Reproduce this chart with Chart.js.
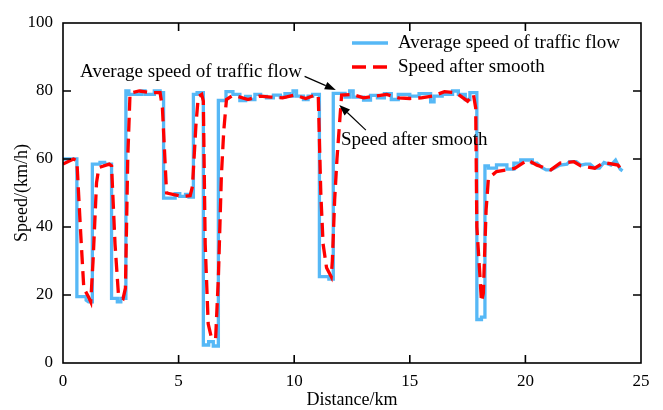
<!DOCTYPE html>
<html><head><meta charset="utf-8">
<script src="https://cdn.jsdelivr.net/npm/chart.js@4/dist/chart.umd.min.js"></script>
<style>html,body{margin:0;padding:0;background:#fff}#wrap{width:663px;height:410px}</style>
</head><body><div id="wrap"><canvas id="c" width="663" height="410"></canvas></div>
<script>
// Average speed of traffic flow (km, km/h)
const avgDistance = [0,0.6,0.6,1.0,1.0,1.1,1.27,1.27,1.6,1.6,1.8,1.8,2.1,2.1,2.35,2.35,2.5,2.5,2.72,2.72,2.85,2.85,3.4,3.4,3.55,3.55,3.95,3.95,4.2,4.2,4.35,4.35,4.85,4.85,5.05,5.05,5.3,5.3,5.45,5.45,5.64,5.64,5.8,5.8,6.07,6.07,6.3,6.3,6.5,6.5,6.72,6.72,7.05,7.05,7.35,7.35,7.65,7.65,7.9,7.9,8.1,8.1,8.3,8.3,8.55,8.55,8.8,8.8,9.1,9.1,9.4,9.4,9.6,9.6,9.8,9.8,9.95,9.95,10.1,10.1,10.4,10.4,10.6,10.6,10.8,10.8,11.09,11.09,11.5,11.5,11.69,11.69,12.2,12.2,12.4,12.4,12.55,12.55,13.0,13.0,13.3,13.3,13.6,13.6,13.9,13.9,14.2,14.2,14.5,14.5,15.0,15.0,15.4,15.4,15.9,15.9,16.05,16.05,16.4,16.4,16.85,16.85,17.1,17.1,17.4,17.4,17.6,17.6,17.9,17.9,18.1,18.1,18.25,18.25,18.4,18.4,18.75,18.75,19.2,19.2,19.5,19.5,19.8,19.8,20.3,20.3,20.5,20.7,20.9,21.1,21.3,21.5,21.8,21.9,22.2,22.4,22.6,22.8,23.0,23.2,23.4,23.7,23.9,24.1,24.2];
const avgSpeed    = [60,60,19.5,19.5,18.5,18,18,58.5,58.5,59,59,58.5,58.5,19,19,18,18,19,19,80,80,79,79,80,80,79,79,80,80,79.5,79.5,48.5,48.5,49.8,49.8,49,49,49.6,49.6,48.8,48.8,79,79,79.5,79.5,5.3,5.3,6.3,6.3,5,5,77.2,77.2,79.8,79.8,79,79,77.2,77.2,78.4,78.4,77.5,77.5,79,79,78.4,78.4,78,78,78.8,78.8,78.2,78.2,79.2,79.2,78.5,78.5,80,80,78.5,78.5,77.5,77.5,78.5,78.5,79,79,25.4,25.4,24.7,24.7,79.3,79.3,78.2,78.2,80,80,78.2,78.2,77.3,77.3,78.7,78.7,78,78,79.2,79.2,77.5,77.5,79,79,78.5,78.5,79.2,79.2,76.8,76.8,78.5,78.5,79,79,80,80,79,79,77.5,77.5,79.5,79.5,12.8,12.8,13.5,13.5,58,58,57.3,57.3,58.3,58.3,57,57,58.8,58.8,59.7,59.7,58.8,58.8,57.5,56.8,56.8,57.5,58.2,58.5,59.2,59.2,58.2,58.5,58.5,57.3,57.3,59,58.2,59.7,57,56.5];
// Speed after smooth
const smoothDistance = [0,0.45,0.6,0.75,0.9,1.1,1.2,1.3,1.45,1.55,2.0,2.1,2.25,2.4,2.6,2.7,2.8,2.9,3.3,3.8,4.2,4.3,4.48,4.8,5.2,5.5,5.6,5.75,5.85,6.0,6.07,6.15,6.28,6.4,6.6,6.72,6.85,6.95,7.07,7.3,7.5,8.0,8.5,9.0,9.5,10.0,10.5,10.9,11.04,11.15,11.25,11.4,11.6,11.65,11.75,11.85,12.05,12.5,13.0,13.5,14.0,14.5,15.0,15.5,16.0,16.5,17.0,17.5,17.75,17.85,17.9,18.03,18.1,18.18,18.3,18.4,18.75,19.2,19.55,20.1,20.5,21.1,21.5,22.1,22.4,23.0,23.4,24.0,24.2];
const smoothSpeed    = [58.5,60,59.5,40,22,19.5,18,30,53,57.5,58.5,58,35,20,19,22,60,79.4,80,79.5,79.5,75,50,49.5,49,49.2,52,70,78.3,79,77,35,11.5,8,7,25,55,68,77.5,78.5,78.5,77.5,78.5,78.2,78,78.8,77.8,78.8,78.8,50,35,28,25.4,30,48,60,78.8,79,78,78.5,79,78,77.8,78,78.5,79.8,79.5,77,79,75,40,26,18,20.5,45,54.3,56.3,56.8,57.3,59.7,58.2,56.8,58.8,59.2,58,57.3,59,58.2,56.5];
const xTicks = [0,5,10,15,20,25];
const yTicks = [0,20,40,60,80,100];

const FONT = '"Liberation Serif","Times New Roman",serif';
const BLUE = '#56b8f6', RED = '#ff0000';

const annotations = [
  {text:'Average speed of traffic flow', tx:0.74, ty:85.6, x0:10.45, y0:84.3, x1:11.8, y1:80.3},
  {text:'Speed after smooth', tx:12.02, ty:65.6, x0:13.1, y0:68.5, x1:11.95, y1:75.9}
];

const framePlugin = {
  id:'frame',
  afterDraw(chart){
    const {ctx, chartArea:a, scales:{x, y}} = chart;
    ctx.save();
    ctx.strokeStyle = '#000'; ctx.lineWidth = 1.6;
    ctx.strokeRect(a.left, a.top, a.right-a.left, a.bottom-a.top);
    const L = 8;
    ctx.beginPath();
    xTicks.slice(1,-1).forEach(v=>{const p=x.getPixelForValue(v);
      ctx.moveTo(p,a.bottom);ctx.lineTo(p,a.bottom-L);ctx.moveTo(p,a.top);ctx.lineTo(p,a.top+L);});
    yTicks.slice(1,-1).forEach(v=>{const p=y.getPixelForValue(v);
      ctx.moveTo(a.left,p);ctx.lineTo(a.left+L,p);ctx.moveTo(a.right,p);ctx.lineTo(a.right-L,p);});
    ctx.stroke();
    // annotations
    ctx.font = '19px '+FONT; ctx.fillStyle='#000'; ctx.textBaseline='middle'; ctx.textAlign='left';
    annotations.forEach(an=>{
      ctx.fillText(an.text, x.getPixelForValue(an.tx), y.getPixelForValue(an.ty));
      const X0=x.getPixelForValue(an.x0), Y0=y.getPixelForValue(an.y0);
      const X1=x.getPixelForValue(an.x1), Y1=y.getPixelForValue(an.y1);
      const ang=Math.atan2(Y1-Y0,X1-X0), hl=11, hw=4;
      const bx=X1-hl*Math.cos(ang), by=Y1-hl*Math.sin(ang);
      ctx.lineWidth=1.2; ctx.beginPath(); ctx.moveTo(X0,Y0); ctx.lineTo(bx,by); ctx.stroke();
      ctx.beginPath(); ctx.moveTo(X1,Y1);
      ctx.lineTo(bx+hw*Math.sin(ang), by-hw*Math.cos(ang));
      ctx.lineTo(bx-hw*Math.sin(ang), by+hw*Math.cos(ang)); ctx.closePath(); ctx.fill();
    });
    // legend
    const items = [chart.data.datasets[1], chart.data.datasets[0]];
    items.forEach((ds,i)=>{
      const ly = a.top + 20 + i*24, lx = a.right - 289;
      ctx.strokeStyle = ds.borderColor; ctx.lineWidth = ds.borderWidth;
      ctx.setLineDash(ds.borderDash || []);
      ctx.beginPath(); ctx.moveTo(lx,ly); ctx.lineTo(lx+36,ly); ctx.stroke();
      ctx.setLineDash([]);
      ctx.fillStyle='#000'; ctx.fillText(ds.label, lx+46, ly);
    });
    ctx.restore();
  }
};

new Chart(document.getElementById('c'), {
  type:'line',
  data:{datasets:[
    {label:'Speed after smooth', data:smoothDistance.map((d,i)=>({x:d,y:smoothSpeed[i]})),
     borderColor:RED, borderWidth:3.3, borderDash:[14,7], pointRadius:0, tension:0, fill:false, order:0},
    {label:'Average speed of traffic flow', data:avgDistance.map((d,i)=>({x:d,y:avgSpeed[i]})),
     borderColor:BLUE, borderWidth:3.3, pointRadius:0, tension:0, fill:false, order:1}
  ]},
  options:{
    responsive:false, animation:false, events:[],
    layout:{padding:{top:23,right:22,left:0,bottom:0}},
    plugins:{legend:{display:false}, tooltip:{enabled:false}},
    scales:{
      x:{type:'linear', min:0, max:25,
         afterBuildTicks(s){s.ticks = xTicks.map(v=>({value:v}));},
         afterFit(s){s.height=47;},
         grid:{display:false, drawTicks:false}, border:{display:false},
         ticks:{padding:8, color:'#000', font:{family:FONT,size:17}},
         title:{display:true, text:'Distance/km', color:'#000', font:{family:FONT,size:18}, padding:{top:0,bottom:-1}}},
      y:{type:'linear', min:0, max:100,
         afterBuildTicks(s){s.ticks = yTicks.map(v=>({value:v}));},
         afterFit(s){s.width=63;},
         grid:{display:false, drawTicks:false}, border:{display:false},
         ticks:{padding:10, color:'#000', font:{family:FONT,size:17}},
         title:{display:true, text:'Speed/(km/h)', color:'#000', font:{family:FONT,size:18}, padding:{top:11,bottom:0}}}
    }
  },
  plugins:[framePlugin]
});
</script></body></html>
